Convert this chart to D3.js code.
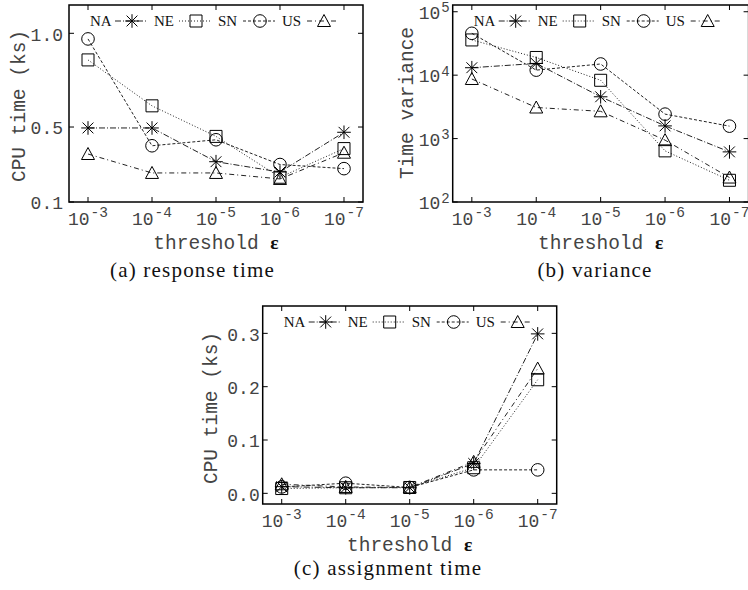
<!DOCTYPE html>
<html><head><meta charset="utf-8">
<script src="https://cdn.jsdelivr.net/npm/d3@7"></script>
<style>body{margin:0;background:#fff}svg{display:block}</style>
</head><body>
<svg id="chart" width="748" height="590"></svg>
<script>
// ---------- data ----------
const seriesNames = ["NA", "NE", "SN", "US"];
const seriesMarkers = ["star", "square", "circle", "triangle"];
const thresholdExps = ["-3", "-4", "-5", "-6", "-7"];

// (a) response time, CPU time (ks)
const responseNA = [0.495, 0.495, 0.315, 0.260, 0.472];
const responseNE = [0.858, 0.613, 0.450, 0.232, 0.385];
const responseSN = [0.970, 0.400, 0.432, 0.300, 0.278];
const responseUS = [0.356, 0.255, 0.255, 0.223, 0.363];
const responseTicks = [0.1, 0.5, 1.0];
const responseTickLabels = ["0.1", "0.5", "1.0"];

// (b) time variance
const varianceNA = [13100, 15300, 4560, 1585, 617];
const varianceNE = [35900, 19000, 8300, 640, 220];
const varianceSN = [45700, 12000, 15000, 2430, 1570];
const varianceUS = [8700, 3090, 2690, 945, 243];
const varianceTicks = [1e2, 1e3, 1e4, 1e5];
const varianceTickExps = ["2", "3", "4", "5"];

// (c) assignment time, CPU time (ks)
const assignNA = [0.0125, 0.0105, 0.0105, 0.056, 0.299];
const assignNE = [0.009, 0.0105, 0.011, 0.048, 0.213];
const assignSN = [0.012, 0.019, 0.011, 0.044, 0.044];
const assignUS = [0.017, 0.012, 0.011, 0.059, 0.234];
const assignTicks = [0.0, 0.1, 0.2, 0.3];
const assignTickLabels = ["0.0", "0.1", "0.2", "0.3"];

// ---------- style / layout ----------
const dashes = ["6,2,1,2", "1,2", "3,2", "5,3,1,3"];
const monoFont = "'Liberation Mono', 'Courier New', monospace";
const serifFont = "'Liberation Serif', 'Times New Roman', serif";
const textGray = "#444";

const panels = [
  { box: {l: 69, r: 363, t: 5, b: 202}, scale: "linear", domain: [0.1, 1.151],
    series: [responseNA, responseNE, responseSN, responseUS],
    ticks: responseTicks, tickLabels: responseTickLabels, tickExps: null, tickPad: 6,
    ylabel: "CPU time (ks)", ylabelX: 18.5, ylabelY: 106,
    caption: "(a) response time", captionX: 192.5, captionY: 277 },
  { box: {l: 452.7, r: 748.6, t: 5, b: 202}, scale: "log", domain: [100, 127700],
    series: [varianceNA, varianceNE, varianceSN, varianceUS],
    ticks: varianceTicks, tickLabels: null, tickExps: varianceTickExps, tickPad: 3,
    ylabel: "Time variance", ylabelX: 406, ylabelY: 103,
    caption: "(b) variance", captionX: 595, captionY: 277 },
  { box: {l: 262.7, r: 556.7, t: 306, b: 504}, scale: "linear", domain: [-0.02, 0.3513],
    series: [assignNA, assignNE, assignSN, assignUS],
    ticks: assignTicks, tickLabels: assignTickLabels, tickExps: null, tickPad: 3,
    ylabel: "CPU time (ks)", ylabelX: 210, ylabelY: 408,
    caption: "(c) assignment time", captionX: 388, captionY: 575 }
];

function markerPath(kind) {
  const p = d3.path();
  if (kind === "star") {
    const h = 6.8, d = 5.4;
    p.moveTo(-h, 0); p.lineTo(h, 0);
    p.moveTo(0, -h); p.lineTo(0, h);
    p.moveTo(-d, -d); p.lineTo(d, d);
    p.moveTo(-d, d); p.lineTo(d, -d);
  } else if (kind === "square") {
    const h = 6;
    p.rect(-h, -h, 2 * h, 2 * h);
  } else if (kind === "circle") {
    const r = 6.3;
    p.moveTo(r, 0); p.arc(0, 0, r, 0, 2 * Math.PI);
  } else {
    const h = 6.5;
    p.moveTo(0, -6.5); p.lineTo(h, 5.5); p.lineTo(-h, 5.5); p.closePath();
  }
  return p.toString();
}

const svg = d3.select("#chart");

panels.forEach(P => {
  const {l, r, t, b} = P.box;
  const g = svg.append("g");
  const x = d3.scalePoint().domain(thresholdExps).range([l, r]).padding(0.297);
  const y = (P.scale === "log" ? d3.scaleLog() : d3.scaleLinear()).domain(P.domain).range([b, t]);

  // ticks (inward, mirrored on all sides)
  const tk = 5;
  const tickG = g.append("g").attr("stroke", "#000").attr("stroke-width", 1);
  thresholdExps.forEach(e => {
    const xx = x(e);
    tickG.append("line").attr("x1", xx).attr("x2", xx).attr("y1", b).attr("y2", b - tk);
    tickG.append("line").attr("x1", xx).attr("x2", xx).attr("y1", t).attr("y2", t + tk);
  });
  P.ticks.forEach(v => {
    const yy = y(v);
    tickG.append("line").attr("x1", l).attr("x2", l + tk).attr("y1", yy).attr("y2", yy);
    tickG.append("line").attr("x1", r).attr("x2", r - tk).attr("y1", yy).attr("y2", yy);
  });

  // series lines
  const line = d3.line().x((d, i) => x(thresholdExps[i])).y(d => y(d));
  P.series.forEach((s, k) => {
    g.append("path").attr("d", line(s)).attr("fill", "none")
      .attr("stroke", "#222").attr("stroke-width", 1).attr("stroke-dasharray", dashes[k]);
  });
  // markers
  P.series.forEach((s, k) => {
    g.selectAll(null).data(s).join("path")
      .attr("d", markerPath(seriesMarkers[k]))
      .attr("transform", (d, i) => `translate(${x(thresholdExps[i])},${y(d)})`)
      .attr("fill", "none").attr("stroke", "#000").attr("stroke-width", 1);
  });

  // frame
  g.append("rect").attr("x", l).attr("y", t).attr("width", r - l).attr("height", b - t)
    .attr("fill", "none").attr("stroke", "#000").attr("stroke-width", 1.5);

  // legend
  const lx0 = l + 21, ly = t + 16;
  seriesNames.forEach((name, k) => {
    const ex = lx0 + 64 * k;
    g.append("text").attr("x", ex).attr("y", ly).attr("dy", "0.35em")
      .attr("font-family", serifFont).attr("font-size", 15).attr("fill", "#111").text(name);
    const mx = ex + 42;
    g.append("line").attr("x1", mx - 17).attr("x2", mx + 15).attr("y1", ly).attr("y2", ly)
      .attr("stroke", "#222").attr("stroke-width", 1).attr("stroke-dasharray", dashes[k]);
    g.append("path").attr("d", markerPath(seriesMarkers[k]))
      .attr("transform", `translate(${mx},${ly})`)
      .attr("fill", "none").attr("stroke", "#000").attr("stroke-width", 1);
  });

  // x tick labels
  thresholdExps.forEach(e => {
    const tx = g.append("text").attr("x", x(e)).attr("y", b + 23)
      .attr("text-anchor", "middle").attr("font-family", monoFont)
      .attr("font-size", 18).attr("fill", textGray);
    tx.append("tspan").text("10");
    tx.append("tspan").attr("dy", -8).attr("dx", 1).attr("font-size", 14.5).text(e);
  });

  // y tick labels
  P.ticks.forEach((v, i) => {
    const tx = g.append("text").attr("x", l - P.tickPad).attr("y", y(v)).attr("dy", "0.4em")
      .attr("text-anchor", "end").attr("font-family", monoFont)
      .attr("font-size", 18).attr("fill", textGray);
    if (P.tickExps) {
      tx.append("tspan").text("10");
      tx.append("tspan").attr("dy", -6.5).attr("dx", 1).attr("font-size", 14).text(P.tickExps[i]);
    } else {
      tx.text(P.tickLabels[i]);
    }
  });

  // axis titles
  g.append("text").attr("transform", `translate(${P.ylabelX},${P.ylabelY}) rotate(-90)`)
    .attr("text-anchor", "middle").attr("dy", "0.35em")
    .attr("font-family", monoFont).attr("font-size", 19.5).attr("fill", textGray)
    .text(P.ylabel);
  const xt = g.append("text").attr("x", (l + r) / 2).attr("y", b + 47)
    .attr("text-anchor", "middle").attr("font-family", monoFont)
    .attr("font-size", 19.5).attr("fill", textGray);
  xt.append("tspan").text("threshold ");
  xt.append("tspan").attr("font-family", serifFont).attr("font-weight", "bold")
    .attr("fill", "#111").text("ε");

  // caption
  g.append("text").attr("x", P.captionX).attr("y", P.captionY)
    .attr("text-anchor", "middle").attr("font-family", serifFont)
    .attr("font-size", 21).attr("letter-spacing", 1.2).attr("fill", "#111")
    .text(P.caption);
});
</script>
</body></html>
